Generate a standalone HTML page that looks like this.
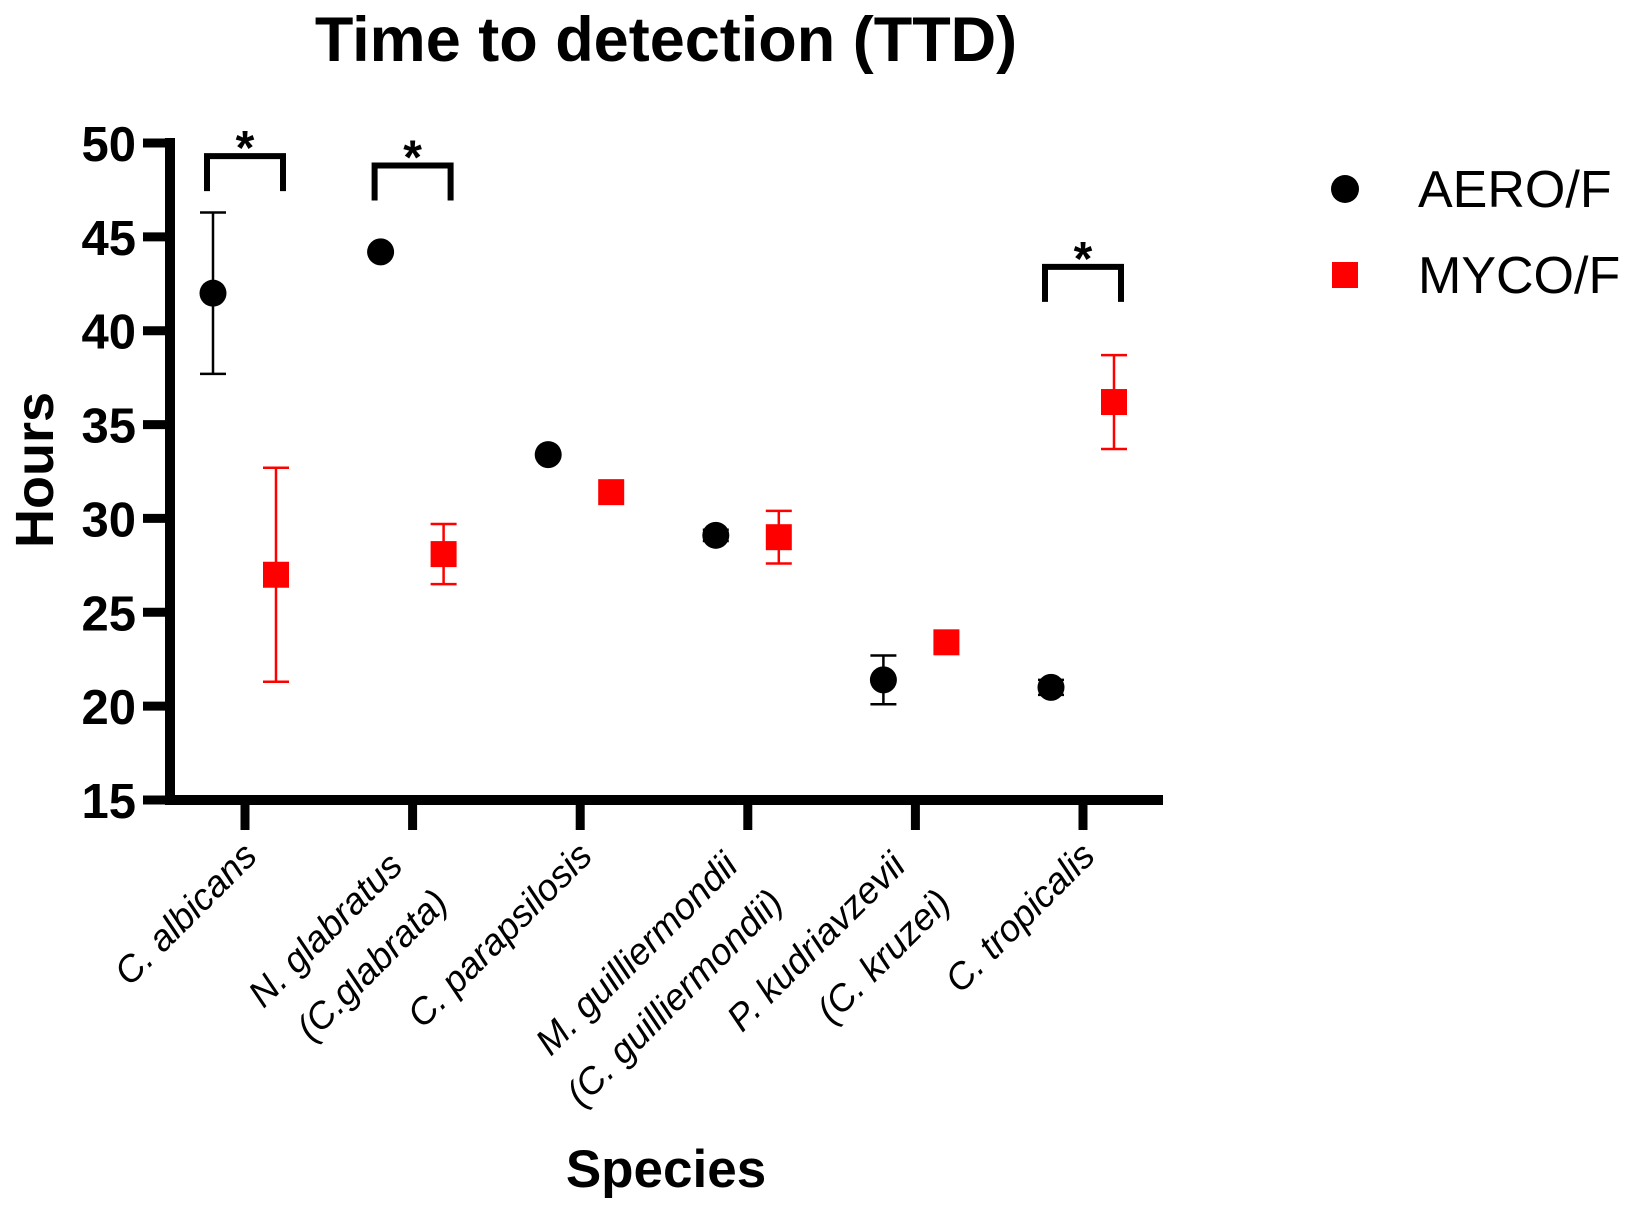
<!DOCTYPE html>
<html><head><meta charset="utf-8"><style>
html,body{margin:0;padding:0;background:#fff;}
svg{display:block;font-family:"Liberation Sans",Arial,sans-serif;}
</style></head><body>
<svg id="chart" width="1633" height="1211" viewBox="0 0 1633 1211">
<text x="666" y="61" text-anchor="middle" font-size="63" font-weight="bold">Time to detection (TTD)</text>
<text transform="translate(53,470) rotate(-90)" text-anchor="middle" font-size="54" font-weight="bold">Hours</text>
<text x="666" y="1187" text-anchor="middle" font-size="53" font-weight="bold">Species</text>
<g id="axes"></g>
<g id="brackets"></g>
<g id="marks"></g>
<g>
<circle cx="1345" cy="189" r="14" fill="#000"/>
<text x="1418" y="207" font-size="52">AERO/F</text>
<rect x="1332" y="262" width="26" height="26" fill="#f00"/>
<text x="1418" y="293" font-size="52">MYCO/F</text>
</g>
</svg>
<script>
const categories = [["C. albicans"],["N. glabratus","(C.glabrata)"],["C. parapsilosis"],["M. guilliermondii","(C. guilliermondii)"],["P. kudriavzevii","(C. kruzei)"],["C. tropicalis"]];
const aeroMean = [42.0, 44.2, 33.4, 29.1, 21.4, 21.0];
const aeroLow  = [37.7, 44.2, 33.4, 28.8, 20.1, 20.6];
const aeroHigh = [46.3, 44.2, 33.4, 29.4, 22.7, 21.4];
const mycoMean = [27.0, 28.1, 31.4, 29.0, 23.4, 36.2];
const mycoLow  = [21.3, 26.5, 31.4, 27.6, 23.4, 33.7];
const mycoHigh = [32.7, 29.7, 31.4, 30.4, 23.4, 38.7];
const yTicks = [15, 20, 25, 30, 35, 40, 45, 50];
const sigCategories = [0, 1, 5];
const sigHeights = [49.3, 48.8, 43.4];

const NS='http://www.w3.org/2000/svg';
const yMin=15,yMax=50,y0=800,y1=143;
function Y(v){return y0-(v-yMin)/(yMax-yMin)*(y0-y1);}
function X(i){return 245+i*167.6;}
function mk(tag,attrs,parent){const e=document.createElementNS(NS,tag);for(const k in attrs)e.setAttribute(k,attrs[k]);parent.appendChild(e);return e;}
const axes=document.getElementById('axes'),marks=document.getElementById('marks'),br=document.getElementById('brackets');
let e=mk('line',{x1:170,y1:Y(yMax)-5,x2:170,y2:y0+5,stroke:'#000','stroke-width':10},axes);


e=mk('line',{x1:165,y1:y0,x2:1163,y2:y0,stroke:'#000','stroke-width':10},axes);


yTicks.forEach(t=>{
  let l=mk('line',{x1:143,y1:Y(t),x2:170,y2:Y(t),stroke:'#000','stroke-width':9},axes);
  
  
  let tx=mk('text',{x:136,y:Y(t)+18,'text-anchor':'end','font-size':49,'font-weight':'bold'},axes);
  tx.textContent=t;
  
  
});
categories.forEach((c,i)=>{
  let l=mk('line',{x1:X(i),y1:y0,x2:X(i),y2:830,stroke:'#000','stroke-width':9},axes);
  
  
  const two=c.length>1;
  const ox=two?X(i)-8:X(i)+14, oy=two?868:858;
  let tx=mk('text',{transform:`translate(${ox},${oy}) rotate(-45)`,'text-anchor':'end','font-size':37,'font-style':'italic'},axes);
  
  
  c.forEach((s,j)=>{let ts=mk('tspan',{x:j?6:0,dy:j?58:0},tx);ts.textContent=s;});
});
function errbar(x,lo,hi,col,name){
  if(hi-lo<0.05)return;
  let g=mk('g',{stroke:col,'stroke-width':2.5},marks);
  
  
  mk('line',{x1:x,y1:Y(lo),x2:x,y2:Y(hi)},g);
  mk('line',{x1:x-13,y1:Y(lo),x2:x+13,y2:Y(lo)},g);
  mk('line',{x1:x-13,y1:Y(hi),x2:x+13,y2:Y(hi)},g);
}
categories.forEach((c,i)=>{
  const xa=X(i)-32,xm=X(i)+31;
  errbar(xa,aeroLow[i],aeroHigh[i],'#000','aero-error-bar');
  errbar(xm,mycoLow[i],mycoHigh[i],'#f00','myco-error-bar');
  let p=mk('circle',{cx:xa,cy:Y(aeroMean[i]),r:13.5,fill:'#000'},marks);
  
  
  let s=mk('rect',{x:xm-13,y:Y(mycoMean[i])-13,width:26,height:26,fill:'#f00'},marks);
  
  
});
sigCategories.forEach((ci,k)=>{
  const xl=X(ci)-38,xr=X(ci)+38,yt=Y(sigHeights[k]);
  let p=mk('path',{d:`M${xl},${yt+35} V${yt} H${xr} V${yt+35}`,fill:'none',stroke:'#000','stroke-width':6},br);
  
  
  let t=mk('text',{x:X(ci),y:yt+8,'text-anchor':'middle','font-size':48,'font-weight':'bold'},br);
  t.textContent='*';
  
  
});
</script>
</body></html>
